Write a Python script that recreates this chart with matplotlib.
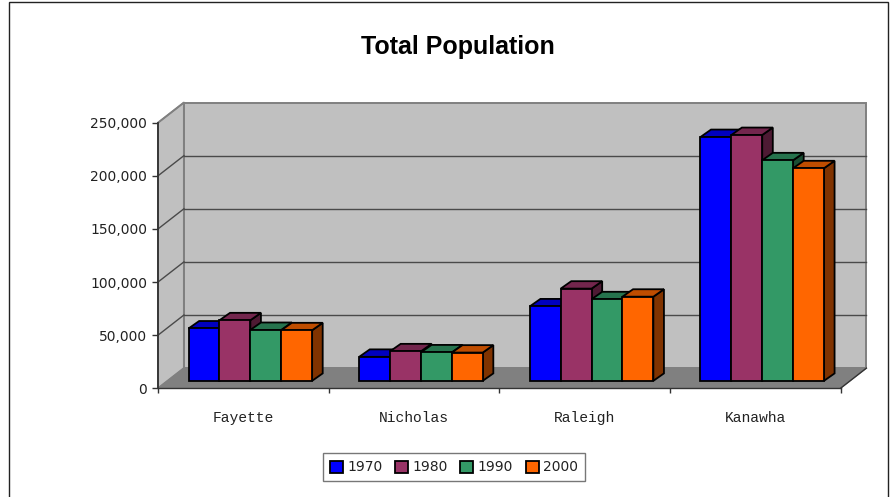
import matplotlib
matplotlib.use("Agg")
import matplotlib.pyplot as plt
import matplotlib.colors as mcolors
from matplotlib.patches import Polygon, Rectangle, Patch
from matplotlib.ticker import FuncFormatter

# ---- data -----------------------------------------------------------
counties = ["Fayette", "Nicholas", "Raleigh", "Kanawha"]
years = ["1970", "1980", "1990", "2000"]
pop_1970 = [49300, 22600, 70100, 229500]
pop_1980 = [57000, 27800, 86800, 231400]
pop_1990 = [47900, 26800, 76800, 207600]
pop_2000 = [47600, 26600, 79200, 200100]
y_ticks = [0, 50000, 100000, 150000, 200000, 250000]
series = [pop_1970, pop_1980, pop_1990, pop_2000]

# ---- style ----------------------------------------------------------
face_colors = ["#0000FF", "#993366", "#339966", "#FF6600"]
WALL = "#C0C0C0"
FLOOR = "#808080"
WALL_EDGE = "#808080"
GRID = "#4a4a4a"
YMAX = 250000

# depth offsets of the 3-D box (category units, value units)
DX, DY = 0.152, 19000
# bars sit partway back in the box and have their own depth
BAR_PLANE = 0.37
BAR_DX, BAR_DY = 0.062, 7000
BAR_W = 0.181
GROUP_PAD = 0.123


def shade(color, f):
    r, g, b = mcolors.to_rgb(color)
    return (r * f, g * f, b * f)


fig = plt.figure(figsize=(8.9, 4.97), dpi=100)
fig.patch.set_facecolor("white")

# outer chart border
fig.add_artist(Rectangle((9 / 890, -0.01), 879 / 890, 1 - 1.5 / 497 + 0.01,
                         transform=fig.transFigure, fill=False,
                         edgecolor="#222222", linewidth=1.0))

fig.text(0.514, 0.905, "Total Population", ha="center", va="center",
         fontsize=18, fontweight="bold", family=["Liberation Sans", "DejaVu Sans"])

ax = fig.add_axes([158 / 890, 108.7 / 497, 682.5 / 890, 265.6 / 497])
ax.set_xlim(0, 4)
ax.set_ylim(0, YMAX)
ax.patch.set_visible(False)
n_cat = len(counties)

# walls and floor
back = Polygon([(DX, DY), (n_cat + DX, DY), (n_cat + DX, YMAX + DY), (DX, YMAX + DY)],
               closed=True, facecolor=WALL, edgecolor=WALL_EDGE, linewidth=1.4,
               zorder=1, clip_on=False)
left = Polygon([(0, 0), (DX, DY), (DX, YMAX + DY), (0, YMAX)],
               closed=True, facecolor=WALL, edgecolor=WALL_EDGE, linewidth=1.4,
               zorder=1, clip_on=False)
floor = Polygon([(0, 0), (n_cat, 0), (n_cat + DX, DY), (DX, DY)],
                closed=True, facecolor=FLOOR, edgecolor=FLOOR, linewidth=0.8,
                zorder=1.5, clip_on=False)
for p in (back, left, floor):
    ax.add_patch(p)

# gridlines on back wall and left wall
for v in y_ticks[1:]:
    if v < YMAX:
        ax.plot([DX, n_cat + DX], [v + DY, v + DY], color=GRID, lw=1.0,
                zorder=1.2, clip_on=False)
    ax.plot([0, DX], [v, v + DY], color=GRID if v < YMAX else WALL_EDGE,
            lw=1.0, zorder=1.2, clip_on=False)
# right edge of the floor
ax.plot([n_cat, n_cat + DX], [0, DY], color="#333333", lw=1.0, zorder=1.6,
        clip_on=False)

# bars
bx0 = BAR_PLANE * DX
by0 = BAR_PLANE * DY
z = 3
for i in range(n_cat):
    for j, vals in enumerate(series):
        x0 = i + bx0 + GROUP_PAD + j * BAR_W
        x1 = x0 + BAR_W
        y0 = by0
        y1 = by0 + vals[i]
        col = face_colors[j]
        kw = dict(closed=True, edgecolor="black", linewidth=1.3,
                  joinstyle="miter", clip_on=False)
        side = Polygon([(x1, y0), (x1 + BAR_DX, y0 + BAR_DY),
                        (x1 + BAR_DX, y1 + BAR_DY), (x1, y1)],
                       facecolor=shade(col, 0.5), zorder=z, **kw)
        top = Polygon([(x0, y1), (x1, y1), (x1 + BAR_DX, y1 + BAR_DY),
                       (x0 + BAR_DX, y1 + BAR_DY)],
                      facecolor=shade(col, 0.75), zorder=z, **kw)
        front = Polygon([(x0, y0), (x1, y0), (x1, y1), (x0, y1)],
                        facecolor=col, zorder=z + 0.5, **kw)
        for p in (side, top, front):
            ax.add_patch(p)
        z += 1

# axes: value axis on the left, category axis along the front floor edge
for s in ("top", "right"):
    ax.spines[s].set_visible(False)
ax.spines["left"].set_color("#333333")
ax.spines["left"].set_linewidth(1.3)
ax.spines["bottom"].set_color("#333333")
ax.spines["bottom"].set_linewidth(1.0)
ax.spines["left"].set_zorder(50)
ax.spines["bottom"].set_zorder(50)

ax.set_yticks(y_ticks)
ax.yaxis.set_major_formatter(FuncFormatter(lambda v, _: f"{int(v):,}"))
ax.tick_params(axis="y", direction="out", length=4.3, width=1.0, color="#333333",
               pad=3.6, labelsize=10, labelcolor="#222222")

ax.set_xticks(range(n_cat + 1))
ax.set_xticklabels([])
ax.set_xticks([i + 0.5 for i in range(n_cat)], minor=True)
ax.set_xticklabels(counties, minor=True, family="Liberation Mono", fontsize=10.5,
                   color="#222222")
ax.tick_params(axis="x", which="major", direction="out", length=3.6, width=1.0,
               color="#333333")
ax.tick_params(axis="x", which="minor", length=0, pad=16)

# legend
handles = [Patch(facecolor=c, edgecolor="black", linewidth=1.3) for c in face_colors]
leg = fig.legend(handles, years, loc="center", bbox_to_anchor=(0.51, 0.0596),
                 ncol=4, frameon=True, fancybox=False, edgecolor="#555555",
                 fontsize=10, handlelength=0.95, handleheight=0.95,
                 handletextpad=0.3, columnspacing=0.9, borderpad=0.5,
                 borderaxespad=0)
leg.get_frame().set_linewidth(1.0)
for t in leg.get_texts():
    t.set_color("#222222")

fig.savefig("out.png", dpi=100)
